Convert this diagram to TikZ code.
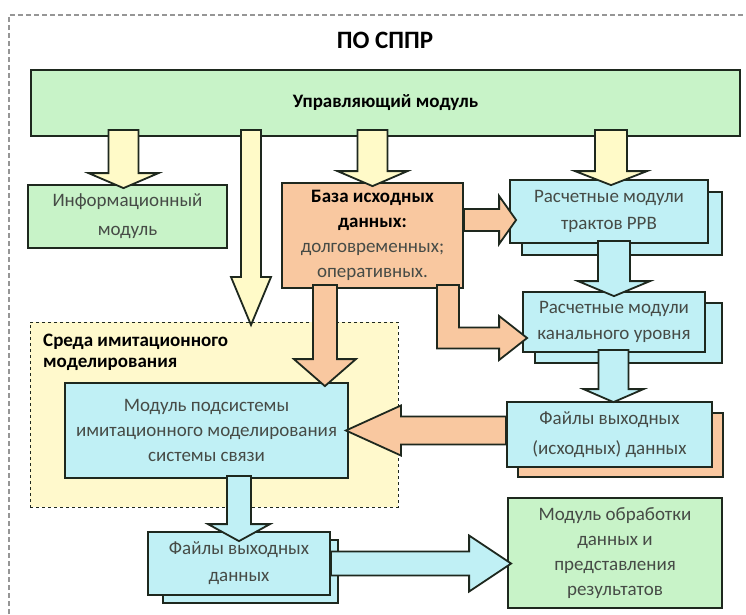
\documentclass[tikz,border=0pt]{standalone}
\usepackage{fontspec}
\setmainfont{Carlito}
\usetikzlibrary{calc}
\definecolor{lineC}{RGB}{30,40,30}
\definecolor{greenF}{RGB}{200,243,200}
\definecolor{cyanF}{RGB}{192,240,245}
\definecolor{orangeF}{RGB}{249,200,160}
\definecolor{yellowF}{RGB}{255,250,200}
\definecolor{sredaF}{RGB}{255,249,204}
\definecolor{txtC}{RGB}{70,75,70}
\definecolor{frameC}{RGB}{150,150,150}
% #1 start, #2 tip, #3 shaft half width, #4 head half width, #5 head length, #6 style
\newcommand{\blockdown}[6]{%
  \draw[#6] let \p1=(#1), \p2=(#2) in
    ({\x2-#3pt},\y1) -- ({\x2+#3pt},\y1) -- ({\x2+#3pt},{\y2+#5pt}) -- ({\x2+#4pt},{\y2+#5pt})
    -- (\x2,\y2) -- ({\x2-#4pt},{\y2+#5pt}) -- ({\x2-#3pt},{\y2+#5pt}) -- cycle;}
\newcommand{\blockright}[6]{%
  \draw[#6] let \p1=(#1), \p2=(#2) in
    (\x1,{\y2+#3pt}) -- ({\x2-#5pt},{\y2+#3pt}) -- ({\x2-#5pt},{\y2+#4pt}) -- (\x2,\y2)
    -- ({\x2-#5pt},{\y2-#4pt}) -- ({\x2-#5pt},{\y2-#3pt}) -- (\x1,{\y2-#3pt}) -- cycle;}
\newcommand{\blockleft}[6]{%
  \draw[#6] let \p1=(#1), \p2=(#2) in
    (\x1,{\y2+#3pt}) -- ({\x2+#5pt},{\y2+#3pt}) -- ({\x2+#5pt},{\y2+#4pt}) -- (\x2,\y2)
    -- ({\x2+#5pt},{\y2-#4pt}) -- ({\x2+#5pt},{\y2-#3pt}) -- (\x1,{\y2-#3pt}) -- cycle;}
\begin{document}
\begin{tikzpicture}[x=1pt,y=-1pt,
  box/.style={draw=lineC, line width=1.8pt, inner sep=0pt, align=center, text=txtC},
  txt/.style={font=\fontsize{19}{#1}\selectfont},
  shadowbox/.style={draw=lineC, line width=1.8pt, inner sep=0pt},
  arrY/.style={draw=lineC, line width=1.8pt, fill=yellowF, line join=miter},
  arrC/.style={draw=lineC, line width=1.8pt, fill=cyanF, line join=miter},
  arrO/.style={draw=lineC, line width=1.8pt, fill=orangeF, line join=miter},
  btxt/.style={text=black, font=\fontsize{19}{23}\selectfont\bfseries}]
\useasboundingbox (0,0) rectangle (746,614);
\fill[white] (0,0) rectangle (746,614);
\draw[frameC, line width=1.5pt, dash pattern=on 5pt off 3pt] (9,614) -- (9,15) -- (746,15);
\node[text=black, font=\fontsize{25}{30}\selectfont\bfseries] (title) at (385,40) {ПО СППР};
% control module
\node[box, fill=greenF, minimum width=709pt, minimum height=66pt, btxt] (ctrl) at (385.5,103) {Управляющий модуль};
% simulation environment frame
\node[draw=lineC, line width=1pt, dashed, fill=sredaF, minimum width=368pt, minimum height=185pt, inner sep=0pt] (sreda) at (214,414.5) {};
\node[anchor=north west, inner sep=0pt, align=left, text=black, font=\fontsize{19}{21}\selectfont\bfseries] (sredaT) at (43,334) {Среда имитационного\\моделирования};
% boxes
\node[box, fill=greenF, minimum width=199pt, minimum height=63pt, txt=29] (info) at (127.5,216.5) {Информационный\\модуль};
\node[box, fill=orangeF, minimum width=181pt, minimum height=105pt, txt=25] (baza) at (372.5,235.5)
  {\textcolor{black}{\textbf{База исходных}}\\\textcolor{black}{\textbf{данных:}}\\долговременных;\\оперативных.};
\node[shadowbox, fill=cyanF, minimum width=200pt, minimum height=63pt] (rrvS) at (622,223.5) {};
\node[box, fill=cyanF, minimum width=198pt, minimum height=63pt, txt=27] (rrv) at (609,211.5) {Расчетные модули\\трактов РРВ};
\node[shadowbox, fill=cyanF, minimum width=187pt, minimum height=60pt] (kanS) at (628.5,333) {};
\node[box, fill=cyanF, minimum width=182pt, minimum height=60pt, txt=26] (kan) at (614,322) {Расчетные модули\\канального уровня};
\node[shadowbox, fill=orangeF, minimum width=205pt, minimum height=64pt] (finS) at (620.5,445) {};
\node[box, fill=cyanF, minimum width=205pt, minimum height=65pt, txt=30] (fin) at (609.5,434.5) {Файлы выходных\\(исходных) данных};
\node[box, fill=greenF, minimum width=214pt, minimum height=110pt, txt=25] (proc) at (615,553) {Модуль обработки\\данных и\\представления\\результатов};
\node[box, fill=cyanF, minimum width=283pt, minimum height=95pt, txt=25] (sub) at (206.5,430.5) {Модуль подсистемы\\имитационного моделирования\\системы связи};
\node[shadowbox, fill=cyanF, minimum width=175pt, minimum height=63pt] (foutS) at (250.5,571.5) {};
\node[box, fill=cyanF, minimum width=182pt, minimum height=63pt, txt=27] (fout) at (239,563.5) {Файлы выходных\\данных};
% free ends
\coordinate (t2) at (251,325);
\coordinate (t12) at ($(proc.west |- fout.east)+(4,0)$);
% block arrows
\blockdown{[yshift=7pt]ctrl.south}{[xshift=-4pt,yshift=-4pt]info.north}{15}{35}{15}{arrY}
\blockdown{[yshift=7pt]ctrl.south}{t2}{10}{20}{48}{arrY}
\blockdown{[yshift=7pt]ctrl.south}{[yshift=-4pt]baza.north}{15}{35}{15}{arrY}
\blockdown{[yshift=7pt]ctrl.south}{[xshift=2pt,yshift=-6pt]rrv.north}{16}{36}{14}{arrY}
\blockdown{[yshift=3pt]rrv.south}{[yshift=-5pt]kan.north}{16}{36}{15}{arrC}
\blockdown{[yshift=3pt]kan.south}{[xshift=4pt,yshift=-1pt]fin.north}{15}{30}{13}{arrC}
\blockdown{[yshift=4pt]baza.south}{[xshift=-24pt,yshift=-4pt]sub.north east}{12}{31}{27}{arrO}
\blockdown{[yshift=3pt]sub.south}{[yshift=-10pt]fout.north}{12}{31}{17}{arrC}
\blockright{baza.east}{[xshift=7pt,yshift=-8.5pt]rrv.west}{11}{24}{17}{arrO}
\blockleft{fin.west}{[xshift=-3pt]sub.east}{14}{25}{55}{arrO}
\blockright{fout.east}{t12}{12}{28}{42}{arrC}
% L-shaped arrow from baza to kan
\draw[arrO] let \p1=([xshift=-16pt,yshift=4pt]baza.south east), \p2=([xshift=5pt,yshift=-16pt]kan.west) in
  ({\x1-11pt},\y1) -- ({\x1+11pt},\y1) -- ({\x1+11pt},{\y2+10.5pt}) -- ({\x2-28pt},{\y2+10.5pt})
  -- ({\x2-28pt},{\y2+22pt}) -- (\x2,\y2) -- ({\x2-28pt},{\y2-22pt}) -- ({\x2-28pt},{\y2-10.5pt})
  -- ({\x1-11pt},{\y2-10.5pt}) -- cycle;
\end{tikzpicture}
\end{document}
